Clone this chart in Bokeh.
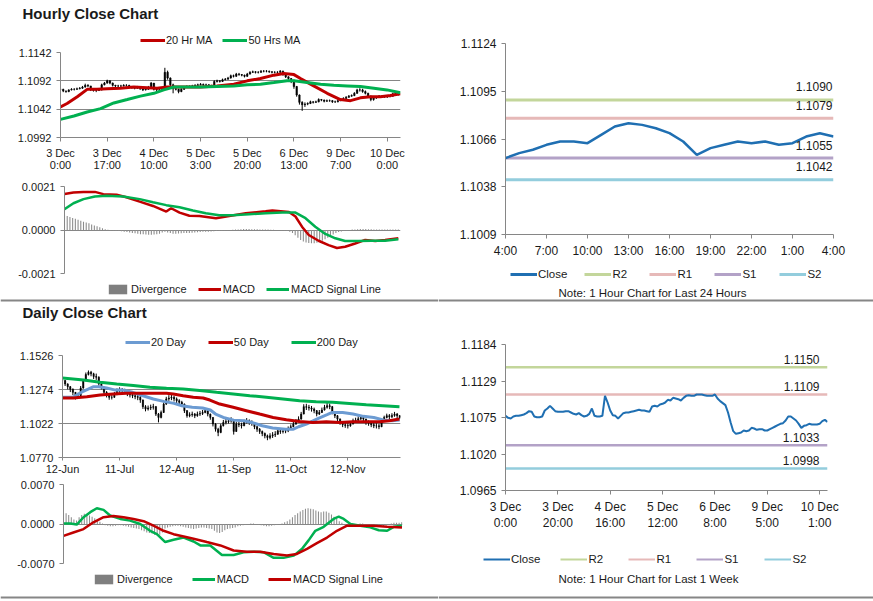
from bokeh.plotting import figure
from bokeh.layouts import row, column
from bokeh.models import Range1d, FixedTicker, Label, Legend, LegendItem, Span
from bokeh.embed import file_html
from bokeh.resources import INLINE

FONT = "Liberation Sans"
GREY = "#868686"
TXT = "#1a1a1a"
RED = "#c00000"
GREEN = "#00b050"
BLUE_CLOSE = "#1f6fb2"
BLUE_MA = "#6c9bd2"
DIV = "#8c8c8c"
LEVEL_COLORS = ["#c3d69b", "#e6b9b8", "#b3a2c7", "#93cddd"]

# ---------------- data ----------------
# hourly (3 Dec 0:00 .. 10 Dec 4:00), shared by the hourly candle chart and the 1-week chart
hourly_close = [1.1077,1.1074,1.1073,1.1076,1.1077,1.1077,1.1078,1.1079,1.1081,1.1084,
 1.1083,1.1076,1.1075,1.1075,1.1076,1.1085,1.1088,1.1092,1.1088,1.1084,
 1.1083,1.1083,1.1083,1.1084,1.1084,1.1082,1.1080,1.1079,1.1081,1.1078,
 1.1076,1.1077,1.1080,1.1088,1.1077,1.1076,1.1076,1.1077,1.1107,1.1097,
 1.1085,1.1078,1.1077,1.1073,1.1077,1.1081,1.1082,1.1082,1.1083,1.1084,
 1.1085,1.1086,1.1085,1.1085,1.1084,1.1083,1.1091,1.1092,1.1091,1.1094,
 1.1095,1.1097,1.1101,1.1100,1.1104,1.1103,1.1102,1.1100,1.1104,1.1107,
 1.1108,1.1107,1.1107,1.1109,1.1109,1.1109,1.1108,1.1107,1.1107,1.1107,
 1.1109,1.1103,1.1099,1.1096,1.1093,1.1082,1.1067,1.1054,1.1050,1.1051,
 1.1052,1.1055,1.1054,1.1055,1.1059,1.1058,1.1056,1.1057,1.1057,1.1055,
 1.1055,1.1057,1.1059,1.1061,1.1063,1.1065,1.1066,1.1070,1.1076,1.1076,
 1.1073,1.1070,1.1065,1.1059,1.1062,1.1063,1.1065,1.1064,1.1064,1.1064,
 1.1065,1.1069,1.1071,1.1068]
hourly_high = [1.1079,1.1078,1.1075,1.1077,1.1079,1.1079,1.1080,1.1081,1.1083,1.1087,
 1.1086,1.1083,1.1078,1.1077,1.1078,1.1087,1.1090,1.1094,1.1093,1.1089,
 1.1085,1.1085,1.1085,1.1086,1.1086,1.1085,1.1083,1.1081,1.1083,1.1082,
 1.1079,1.1079,1.1083,1.1090,1.1088,1.1078,1.1078,1.1080,1.1115,1.1110,
 1.1098,1.1087,1.1080,1.1078,1.1079,1.1083,1.1084,1.1084,1.1085,1.1086,
 1.1087,1.1088,1.1087,1.1087,1.1086,1.1085,1.1093,1.1094,1.1093,1.1096,
 1.1097,1.1099,1.1103,1.1103,1.1106,1.1106,1.1104,1.1103,1.1106,1.1109,
 1.1110,1.1109,1.1109,1.1111,1.1111,1.1111,1.1110,1.1109,1.1109,1.1109,
 1.1111,1.1110,1.1104,1.1100,1.1097,1.1094,1.1083,1.1068,1.1056,1.1054,
 1.1054,1.1057,1.1056,1.1057,1.1061,1.1060,1.1059,1.1059,1.1059,1.1058,
 1.1057,1.1059,1.1061,1.1063,1.1065,1.1067,1.1068,1.1072,1.1078,1.1079,
 1.1078,1.1075,1.1071,1.1066,1.1064,1.1065,1.1067,1.1066,1.1066,1.1066,
 1.1067,1.1071,1.1073,1.1072]
hourly_low = [1.1074,1.1072,1.1071,1.1072,1.1075,1.1075,1.1076,1.1077,1.1078,1.1080,
 1.1081,1.1074,1.1073,1.1072,1.1074,1.1075,1.1084,1.1087,1.1086,1.1082,
 1.1081,1.1081,1.1081,1.1082,1.1082,1.1080,1.1078,1.1077,1.1078,1.1076,
 1.1074,1.1075,1.1076,1.1079,1.1075,1.1074,1.1074,1.1075,1.1076,1.1094,
 1.1082,1.1070,1.1075,1.1070,1.1072,1.1076,1.1080,1.1080,1.1081,1.1082,
 1.1083,1.1084,1.1083,1.1083,1.1082,1.1081,1.1082,1.1089,1.1089,1.1090,
 1.1093,1.1094,1.1096,1.1098,1.1099,1.1101,1.1100,1.1098,1.1099,1.1103,
 1.1106,1.1105,1.1105,1.1106,1.1107,1.1107,1.1106,1.1105,1.1105,1.1105,
 1.1106,1.1101,1.1097,1.1094,1.1088,1.1078,1.1064,1.1050,1.1039,1.1046,
 1.1049,1.1051,1.1052,1.1053,1.1054,1.1056,1.1054,1.1055,1.1055,1.1053,
 1.1053,1.1054,1.1056,1.1058,1.1060,1.1062,1.1064,1.1065,1.1069,1.1073,
 1.1071,1.1068,1.1063,1.1056,1.1057,1.1060,1.1062,1.1062,1.1062,1.1062,
 1.1063,1.1064,1.1068,1.1066]
hourly_ticks = [0, 17, 34, 51, 68, 85, 102, 119]
hourly_tick_labels = ["3 Dec\n0:00", "3 Dec\n17:00", "4 Dec\n10:00", "5 Dec\n3:00",
                      "5 Dec\n20:00", "6 Dec\n13:00", "9 Dec\n7:00", "10 Dec\n0:00"]
hourly_y_ticks = [1.0992, 1.1042, 1.1092, 1.1142]
hourly_y_labels = ["1.0992", "1.1042", "1.1092", "1.1142"]

ma20h_x = [0, 2.4, 6.1, 9.7, 13.3, 17, 21.8, 26.7, 31.6, 35.2, 38.8, 41.3, 46.1, 51, 57, 63.1,
           68, 72.8, 77.7, 81.3, 85, 87.4, 92.2, 97.1, 101.9, 105.6, 109.2, 112.9, 116.5, 120.1, 123.8]
ma20h = [1.1046, 1.1052, 1.1064, 1.1077, 1.1077, 1.1078, 1.1079, 1.1081, 1.1080, 1.1079, 1.1081,
         1.1081, 1.1081, 1.1081, 1.1083, 1.1086, 1.1092, 1.1096, 1.1102, 1.1105, 1.1103, 1.1096,
         1.1083, 1.1070, 1.1059, 1.1057, 1.1062, 1.1064, 1.1064, 1.1066, 1.1069]
ma50h_x = [0, 4.9, 9.7, 14.6, 19.4, 24.3, 29.1, 34, 37.6, 41.3, 46.1, 51, 57, 63.1, 68, 72.8,
           77.7, 82.5, 85, 89.8, 94.7, 99.5, 104.4, 109.2, 114.1, 118.9, 123.8]
ma50h = [1.1024, 1.1030, 1.1037, 1.1043, 1.1053, 1.1059, 1.1065, 1.1070, 1.1076, 1.1081, 1.1081,
         1.1081, 1.1082, 1.1083, 1.1085, 1.1086, 1.1089, 1.1092, 1.1092, 1.1089, 1.1086, 1.1084,
         1.1083, 1.1082, 1.1079, 1.1076, 1.1071]

macdh_x = [0, 3.3, 7, 11.2, 14.3, 19.2, 22.8, 27.7, 32.6, 37.5, 39.3, 42.4, 46, 49.7, 55.8, 60.7,
           66.8, 74.1, 76.6, 82.7, 85.1, 87.5, 90, 93.6, 97.3, 100.4, 103.4, 107.1, 110.8, 114.5, 118.1, 123]
macdh = [0.00174, 0.00181, 0.00184, 0.00184, 0.00173, 0.00170, 0.00158, 0.00137, 0.00116, 0.00089,
         0.00105, 0.00084, 0.00069, 0.00068, 0.00057, 0.00068, 0.00081, 0.00090, 0.00094, 0.00087,
         0.00065, 0.00016, -0.00024, -0.00052, -0.00073, -0.00087, -0.00081, -0.00065, -0.00048,
         -0.00053, -0.00048, -0.00040]
signalh_x = [0, 3.3, 7, 11.2, 15.5, 21.6, 27.7, 32.6, 37.5, 42.4, 47.3, 52.1, 57, 61.9, 68, 74.1,
             80.2, 85.1, 88.8, 92.4, 96.1, 99.8, 103.4, 108.3, 113.2, 118.1, 123]
signalh = [0.00100, 0.00129, 0.00149, 0.00162, 0.00165, 0.00162, 0.00149, 0.00134, 0.00120, 0.00110,
           0.00094, 0.00081, 0.00071, 0.00071, 0.00076, 0.00081, 0.00084, 0.00084, 0.00057, 0.00016,
           -0.00019, -0.00040, -0.00053, -0.00053, -0.00052, -0.00052, -0.00045]
divh = [0.00073,0.00068,0.00063,0.00058,0.00054,0.00050,0.00045,0.00040,0.00036,0.00032,0.00027,0.00022,0.00018,0.00013,0.00008,
 0.00004,0.00001,-0.00002,-0.00003,-0.00004,-0.00005,
 -0.00006,-0.00008,-0.0001,-0.00012,-0.00014,-0.00016,-0.00018,-0.0002,-0.00021,-0.00022,-0.00023,-0.00023,-0.00022,-0.0002,-0.00018,
 -0.00012,-0.00008,-0.00012,-0.00015,-0.00018,-0.00018,-0.00017,-0.00016,-0.00015,-0.00015,-0.00014,-0.00013,-0.00012,-0.00011,-0.0001,
 -0.00009,-0.00008,-0.00008,-0.00007,-0.00006,-0.00005,-0.00004,-0.00003,-0.00002,-0.00001,0.0,0.00001,0.00002,0.00003,0.00004,
 0.00005,0.00005,0.00005,0.00004,0.00004,0.00004,0.00003,0.00003,0.00002,0.00002,0.00001,0.00001,0.0,0.0,-0.00001,-0.00002,-0.00003,-0.00008,-0.00015,
 -0.00025,-0.00038,-0.00048,-0.00055,-0.0006,-0.00063,-0.00064,-0.00064,-0.00062,-0.00058,-0.00052,-0.00045,-0.00038,-0.0003,-0.00022,-0.00015,
 -0.0001,-0.00007,-0.00004,-0.00002,0.0,0.00002,0.00003,0.00004,0.00005,0.00005,0.00005,0.00004,0.00004,0.00003,0.00003,0.00003,0.00002,0.00002,0.00002,0.00002,0.00002,0.00002,0.00002]
macdh_y_ticks = [-0.0021, 0.0, 0.0021]
macdh_y_labels = ["-0.0021", "0.0000", "0.0021"]

# last 24 hours
last24_close = [1.1055, 1.1058, 1.1060, 1.1063, 1.1065, 1.1065, 1.1064, 1.1069, 1.1074, 1.1076,
                1.1075, 1.1073, 1.1070, 1.1065, 1.1057, 1.1061, 1.1063, 1.1065, 1.1064, 1.1065,
                1.1063, 1.1064, 1.1068, 1.1070, 1.1068]
last24_ticks = [0, 3, 6, 9, 12, 15, 18, 21, 24]
last24_tick_labels = ["4:00", "7:00", "10:00", "13:00", "16:00", "19:00", "22:00", "1:00", "4:00"]
last24_y_ticks = [1.1009, 1.103775, 1.10665, 1.109525, 1.1124]
last24_y_labels = ["1.1009", "1.1038", "1.1066", "1.1095", "1.1124"]
level_names = ["R2", "R1", "S1", "S2"]
levels_24h = [1.1090, 1.1079, 1.1055, 1.1042]

# last 1 week
week_ticks = [0, 20, 40, 60, 80, 100, 120]
week_tick_labels = ["3 Dec\n0:00", "3 Dec\n20:00", "4 Dec\n16:00", "5 Dec\n12:00",
                    "6 Dec\n8:00", "9 Dec\n5:00", "10 Dec\n1:00"]
week_y_ticks = [1.0965, 1.101975, 1.10745, 1.112925, 1.1184]
week_y_labels = ["1.0965", "1.1020", "1.1075", "1.1129", "1.1184"]
levels_week = [1.1150, 1.1109, 1.1033, 1.0998]

# daily (12 Jun .. 10 Dec)
daily_close = [1.1340,1.1315,1.1295,1.1276,1.1253,1.1216,1.1228,1.1285,1.1340,1.1385,
 1.1402,1.1390,1.1370,1.1365,1.1315,1.1290,1.1253,1.1233,1.1216,1.1216,
 1.1236,1.1261,1.1271,1.1266,1.1261,1.1241,1.1233,1.1228,1.1221,1.1216,
 1.1196,1.1147,1.1129,1.1137,1.1142,1.1147,1.1092,1.1067,1.1104,1.1166,
 1.1204,1.1211,1.1216,1.1204,1.1191,1.1179,1.1166,1.1117,1.1080,1.1087,
 1.1092,1.1080,1.1092,1.1097,1.1104,1.1117,1.1092,1.1067,1.1018,1.0980,
 1.0956,1.1005,1.1030,1.1037,1.1042,1.1047,1.0963,1.1018,1.1013,1.1005,
 1.1030,1.1042,1.1030,1.1023,1.0998,1.0980,1.0963,1.0948,1.0931,1.0918,
 1.0931,1.0938,1.0943,1.0968,1.0963,1.0966,1.0968,1.0980,1.0998,1.1018,
 1.1037,1.1055,1.1092,1.1147,1.1142,1.1137,1.1129,1.1117,1.1092,1.1104,
 1.1122,1.1142,1.1154,1.1147,1.1104,1.1080,1.1055,1.1030,1.1013,1.1008,
 1.1005,1.1018,1.1042,1.1047,1.1057,1.1067,1.1055,1.1030,1.1023,1.1013,
 1.1005,1.1005,1.0998,1.1037,1.1067,1.1080,1.1072,1.1082,1.1092,1.1080,1.1067]
daily_high = [1.1365,1.1345,1.1320,1.1300,1.1282,1.1255,1.1250,1.1300,1.1352,1.1400,
 1.1415,1.1412,1.1398,1.1392,1.1372,1.1320,1.1295,1.1262,1.1245,1.1238,
 1.1255,1.1282,1.1290,1.1285,1.1280,1.1268,1.1255,1.1250,1.1242,1.1238,
 1.1225,1.1200,1.1158,1.1155,1.1162,1.1168,1.1152,1.1100,1.1118,1.1178,
 1.1220,1.1232,1.1240,1.1228,1.1215,1.1202,1.1190,1.1170,1.1122,1.1105,
 1.1110,1.1100,1.1110,1.1115,1.1122,1.1135,1.1120,1.1095,1.1070,1.1025,
 1.0990,1.1020,1.1048,1.1058,1.1062,1.1068,1.1050,1.1035,1.1035,1.1028,
 1.1050,1.1062,1.1052,1.1045,1.1028,1.1005,1.0988,1.0970,1.0955,1.0940,
 1.0950,1.0958,1.0965,1.0985,1.0985,1.0985,1.0988,1.1000,1.1015,1.1035,
 1.1055,1.1075,1.1108,1.1165,1.1168,1.1160,1.1152,1.1140,1.1122,1.1122,
 1.1140,1.1160,1.1175,1.1170,1.1152,1.1110,1.1085,1.1060,1.1038,1.1030,
 1.1025,1.1035,1.1058,1.1065,1.1075,1.1085,1.1075,1.1058,1.1045,1.1035,
 1.1028,1.1025,1.1020,1.1050,1.1080,1.1095,1.1092,1.1098,1.1108,1.1100,1.1085]
daily_low = [1.1318,1.1300,1.1275,1.1255,1.1232,1.1200,1.1205,1.1225,1.1280,1.1335,
 1.1378,1.1372,1.1352,1.1345,1.1302,1.1275,1.1240,1.1215,1.1198,1.1200,
 1.1212,1.1232,1.1250,1.1248,1.1242,1.1225,1.1215,1.1210,1.1202,1.1195,
 1.1175,1.1130,1.1112,1.1118,1.1122,1.1125,1.1078,1.1030,1.1060,1.1100,
 1.1160,1.1190,1.1195,1.1185,1.1172,1.1160,1.1148,1.1100,1.1065,1.1068,
 1.1072,1.1062,1.1072,1.1078,1.1085,1.1098,1.1075,1.1050,1.1000,1.0962,
 1.0928,1.0950,1.1000,1.1015,1.1022,1.1028,1.0940,1.0960,1.0995,1.0985,
 1.1002,1.1022,1.1012,1.1005,1.0980,1.0960,1.0945,1.0928,1.0912,1.0898,
 1.0905,1.0915,1.0922,1.0938,1.0945,1.0948,1.0950,1.0958,1.0975,1.0995,
 1.1012,1.1030,1.1050,1.1090,1.1122,1.1118,1.1110,1.1098,1.1075,1.1085,
 1.1100,1.1118,1.1132,1.1128,1.1090,1.1062,1.1038,1.1012,1.0995,1.0990,
 1.0985,1.0998,1.1015,1.1028,1.1038,1.1048,1.1038,1.1012,1.1005,1.0995,
 1.0988,1.0985,1.0980,1.0995,1.1035,1.1060,1.1055,1.1062,1.1072,1.1062,1.1055]
daily_ticks = [0, 22, 44, 66, 88, 110]
daily_tick_labels = ["12-Jun", "11-Jul", "12-Aug", "11-Sep", "11-Oct", "12-Nov"]
daily_y_ticks = [1.0770, 1.1022, 1.1274, 1.1526]
daily_y_labels = ["1.0770", "1.1022", "1.1274", "1.1526"]

ma20d_x = [0, 4, 8, 12, 14, 17, 20, 23, 27, 31, 35, 39, 43, 46, 50, 54, 57, 59, 62, 66,
           70, 73, 77, 81, 86, 89, 91, 94, 98, 102, 104, 108, 112, 116, 120, 124, 127, 130]
ma20d = [1.1216, 1.1216, 1.1261, 1.1295, 1.1295, 1.1285, 1.1271, 1.1271, 1.1253, 1.1228,
         1.1204, 1.1186, 1.1171, 1.1154, 1.1142, 1.1137, 1.1122, 1.1092, 1.1067, 1.1047,
         1.1042, 1.1030, 1.1005, 1.0988, 1.0980, 1.0980, 1.0998, 1.1018, 1.1055, 1.1087,
         1.1104, 1.1104, 1.1092, 1.1075, 1.1067, 1.1047, 1.1042, 1.1047]
ma50d_x = [0, 4.2, 9.4, 14.5, 19.6, 24.7, 29.9, 35, 40.1, 42.7, 46.5, 50.4, 54.2, 56.8, 60.6,
           65.8, 70.9, 76, 81.2, 86.3, 91.4, 96.5, 101.7, 106.8, 111.9, 117.1, 122.2, 126, 129.9]
ma50d = [1.1211, 1.1211, 1.1221, 1.1233, 1.1241, 1.1246, 1.1246, 1.1246, 1.1246, 1.1241,
         1.1228, 1.1216, 1.1211, 1.1196, 1.1166, 1.1142, 1.1117, 1.1092, 1.1067, 1.1050,
         1.1037, 1.1030, 1.1035, 1.1030, 1.1035, 1.1035, 1.1035, 1.1042, 1.1055]
ma200d_x = [0, 8.1, 14.5, 20.9, 27.3, 33.7, 40.1, 46.5, 52.9, 59.4, 65.8, 72.2, 78.6, 85,
            91.4, 97.8, 104.2, 110.6, 117.1, 123.5, 129.9]
ma200d = [1.1360, 1.1345, 1.1328, 1.1315, 1.1303, 1.1290, 1.1283, 1.1278, 1.1266, 1.1253,
          1.1241, 1.1228, 1.1216, 1.1204, 1.1191, 1.1184, 1.1179, 1.1171, 1.1161, 1.1154, 1.1147]

macdd_x = [0, 2.6, 5.1, 7.7, 10.3, 12.8, 15.4, 17.9, 21.8, 25.6, 29.5, 33.3, 35.9, 39.1, 42.3,
           46.2, 50, 52.6, 56.4, 60.9, 65.4, 69.2, 73.1, 76.9, 80.8, 84.6, 88.5, 91.7, 94.2,
           96.8, 100, 103.8, 105.8, 107.7, 110.3, 114.1, 117.9, 121.2, 124.4, 126.9, 130.1]
macdd = [0.0001, 0.0001, -0.0001, 0.0012, 0.0021, 0.0028, 0.0025, 0.0015, 0.0009, 0.0006,
         0.0000, -0.0012, -0.0018, -0.0032, -0.0028, -0.0024, -0.0031, -0.0038, -0.0038, -0.0055,
         -0.0055, -0.0050, -0.0049, -0.0050, -0.0060, -0.0060, -0.0056, -0.0044, -0.0029, -0.0012,
         -0.0005, 0.0009, 0.0013, 0.0009, 0.0000, -0.0003, -0.0006, -0.0011, -0.0012, -0.0005, -0.0003]
signald_x = [0, 3.8, 7.7, 11.5, 15.4, 19.2, 23.1, 26.9, 30.8, 34.6, 38.5, 42.3, 46.2, 50, 55.1,
             60.3, 65.4, 70.5, 75.6, 80.8, 85.9, 89.7, 93.6, 97.4, 101.3, 105.1, 109, 114.1,
             119.2, 124.4, 130.1]
signald = [-0.0021, -0.0015, -0.0009, 0.0003, 0.0012, 0.0014, 0.0012, 0.0009, 0.0005, -0.0003,
           -0.0012, -0.0018, -0.0022, -0.0026, -0.0032, -0.0038, -0.0047, -0.0049, -0.0049, -0.0053,
           -0.0056, -0.0053, -0.0044, -0.0034, -0.0024, -0.0012, -0.0003, -0.0003, -0.0003, -0.0005, -0.0006]
divd = [0.0021,0.0019,0.0016,0.0012,0.0008,0.0006,0.0012,0.0016,0.0018,0.0017,
 0.0015,0.0013,0.0010,0.0007,0.0004,0.0001,-0.0002,-0.0003,-0.0004,-0.0004,
 -0.0003,-0.0002,-0.0002,-0.0003,-0.0004,-0.0005,-0.0006,-0.0007,-0.0008,-0.0009,
 -0.0011,-0.0013,-0.0015,-0.0016,-0.0017,-0.0019,-0.0020,-0.0019,-0.0015,-0.0008,
 -0.0006,-0.0005,-0.0004,-0.0003,-0.0003,-0.0004,-0.0005,-0.0006,-0.0007,-0.0008,
 -0.0009,-0.0008,-0.0007,-0.0006,-0.0006,-0.0007,-0.0008,-0.0009,-0.0012,-0.0015,
 -0.0016,-0.0014,-0.0011,-0.0009,-0.0008,-0.0007,-0.0006,-0.0004,-0.0003,-0.0002,
 -0.0001,0.0000,0.0001,0.0001,0.0000,-0.0001,-0.0002,-0.0003,-0.0004,-0.0004,
 -0.0003,-0.0002,-0.0001,0.0000,0.0001,0.0003,0.0005,0.0008,0.0012,0.0016,
 0.0019,0.0022,0.0025,0.0027,0.0028,0.0027,0.0026,0.0024,0.0022,0.0021,
 0.0022,0.0022,0.0020,0.0017,0.0013,0.0009,0.0005,0.0002,0.0000,-0.0001,
 -0.0002,-0.0002,-0.0001,0.0000,0.0001,0.0001,0.0000,-0.0001,-0.0002,-0.0003,
 -0.0004,-0.0005,-0.0005,-0.0004,-0.0002,0.0000,0.0001,0.0002,0.0002,0.0002,0.0003]
macdd_y_ticks = [-0.007, 0.0, 0.007]
macdd_y_labels = ["-0.0070", "0.0000", "0.0070"]


# ---------------- helpers ----------------
def make_fig(w, h, left, right, top, bottom, xr, yr):
    p = figure(width=w, height=h, x_range=Range1d(*xr), y_range=Range1d(*yr),
               output_backend="svg", toolbar_location=None, title=None,
               min_border_left=left, min_border_right=right,
               min_border_top=top, min_border_bottom=bottom)
    p.frame_align = False
    p.outline_line_color = None
    p.background_fill_color = "white"
    p.border_fill_color = "white"
    p.xgrid.visible = False
    p.ygrid.visible = False
    for ax in (p.xaxis[0], p.yaxis[0]):
        ax.axis_line_color = GREY
        ax.major_tick_line_color = GREY
        ax.minor_tick_line_color = None
        ax.major_tick_out = 4
        ax.major_tick_in = 0
        ax.major_label_text_font = FONT
        ax.major_label_text_color = TXT
        ax.major_label_standoff = 5
    return p


def make_header(w, h, rule=False):
    # text strip: its ranges lie far from every series, so only the legend keys show
    p = figure(width=w, height=h, x_range=Range1d(-20, -10), y_range=Range1d(-20, -10),
               output_backend="svg", toolbar_location=None, title=None,
               x_axis_type=None, y_axis_type=None, min_border=0)
    p.frame_align = False
    p.outline_line_color = None
    p.grid.visible = False
    if rule:
        # grey section rule near the bottom edge
        p.add_layout(Span(location=2, location_units="screen", dimension="width",
                          line_color=GREY, line_width=2))
    return p


def set_ticks(p, axis, ticks, labels, size, grid=False):
    ax = p.xaxis[0] if axis == "x" else p.yaxis[0]
    t = FixedTicker(ticks=ticks, minor_ticks=[])
    ax.ticker = t
    ax.major_label_overrides = dict(zip(ticks, labels))
    ax.major_label_text_font_size = size
    if grid:
        g = p.ygrid[0]
        g.ticker = t
        g.visible = True
        g.grid_line_color = GREY
        g.grid_line_width = 1


def add_legend(h, items, x, y, size, glyph_w, spacing, standoff=1):
    its = []
    for label, kind, color, width, xs, ys in items:
        if kind == "bar":
            r = h.vbar(x=xs, top=ys, bottom=0, width=0.5, fill_color=color, line_color=None)
        else:
            r = h.line(x=xs, y=ys, line_color=color, line_width=width)
        its.append(LegendItem(label=label, renderers=[r]))
    lg = Legend(items=its, orientation="horizontal", location=(x, y), padding=0, margin=0,
                spacing=int(spacing), glyph_width=int(glyph_w), glyph_height=12,
                label_standoff=int(standoff), label_height=12,
                label_text_font=FONT, label_text_font_size=size, label_text_color=TXT,
                border_line_color=None, background_fill_alpha=0)
    h.add_layout(lg)


def add_text(p, text, x, y, size, bold=False, align="left"):
    p.add_layout(Label(x=x, y=y, x_units="screen", y_units="screen", text=text,
                       text_font=FONT, text_font_size=size, text_color=TXT,
                       text_font_style="bold" if bold else "normal",
                       text_align=align, text_baseline="middle"))


# ---------------- hourly candles ----------------
hours = list(range(len(hourly_close)))
h_open = [hourly_close[0]] + hourly_close[:-1]

h1 = make_header(438, 46)
add_text(h1, "Hourly Close Chart", 22, 33, "15px", bold=True)
add_legend(h1, [("20 Hr MA", "line", RED, 3, ma20h_x, ma20h),
                ("50 Hrs MA", "line", GREEN, 3, ma50h_x, ma50h)], 140, 0, "11px", 25, 10)

f1 = make_fig(438, 129, 60, 38, 6, 38, (0, 123.8), (hourly_y_ticks[0], hourly_y_ticks[-1]))
set_ticks(f1, "x", hourly_ticks, hourly_tick_labels, "11px")
set_ticks(f1, "y", hourly_y_ticks, hourly_y_labels, "11px", grid=True)
f1.xaxis.major_label_text_line_height = 1.0
f1.segment(x0=hours, y0=hourly_low, x1=hours, y1=hourly_high, line_color="black", line_width=1)
f1.vbar(x=hours, bottom=h_open, top=hourly_close, width=0.55, fill_color="black",
        line_color="black", line_width=0.5)
f1.line(ma20h_x, ma20h, line_color=RED, line_width=3)
f1.line(ma50h_x, ma50h, line_color=GREEN, line_width=3)

# ---------------- hourly MACD ----------------
f2 = make_fig(438, 106, 64, 38, 11, 8, (0, 123.8), (macdh_y_ticks[0], macdh_y_ticks[-1]))
set_ticks(f2, "y", macdh_y_ticks, macdh_y_labels, "11px", grid=True)
f2.xaxis.visible = False
f2.vbar(x=hours, top=divh, bottom=0, width=0.4, fill_color=DIV, line_color=None)
f2.line(macdh_x, macdh, line_color=RED, line_width=2.5)
f2.line(signalh_x, signalh, line_color=GREEN, line_width=2.5)

h2 = make_header(438, 21, rule=True)
add_legend(h2, [("Divergence", "bar", "#7f7f7f", 0, hours, divh),
                ("MACD", "line", RED, 3, macdh_x, macdh),
                ("MACD Signal Line", "line", GREEN, 3, signalh_x, signalh)],
           106, 7.5, "11px", 23, 11, standoff=2)

# ---------------- last 24 hours ----------------
x24 = list(range(len(last24_close)))
f3 = make_fig(435, 262, 67, 40, 43, 28, (x24[0], x24[-1]), (last24_y_ticks[0], last24_y_ticks[-1]))
set_ticks(f3, "x", last24_ticks, last24_tick_labels, "12px")
set_ticks(f3, "y", last24_y_ticks, last24_y_labels, "12px")
for v, c in zip(levels_24h, LEVEL_COLORS):
    f3.line([x24[0], x24[-1]], [v, v], line_color=c, line_width=3)
    f3.add_layout(Label(x=x24[-1], y=v, text=f"{v:.4f}", x_offset=-1, y_offset=13,
                        text_font=FONT, text_font_size="12px", text_color=TXT,
                        text_align="right", text_baseline="middle"))
f3.line(x24, last24_close, line_color=BLUE_CLOSE, line_width=2.5)

h3 = make_header(435, 40, rule=True)
add_legend(h3, [("Close", "line", BLUE_CLOSE, 3, x24, last24_close)] +
           [(n, "line", c, 3, [x24[0], x24[-1]], [v, v])
            for n, c, v in zip(level_names, LEVEL_COLORS, levels_24h)],
           72, 22.5, "11.5px", 27, 17)
add_text(h3, "Note: 1 Hour Chart for Last 24 Hours", 214, 10, "11.5px", align="center")

# ---------------- daily candles ----------------
days = list(range(len(daily_close)))
d_open = [daily_close[0]] + daily_close[:-1]

h4 = make_header(438, 47)
add_text(h4, "Daily Close Chart", 22, 37, "15px", bold=True)
add_legend(h4, [("20 Day", "line", BLUE_MA, 3, ma20d_x, ma20d),
                ("50 Day", "line", RED, 3, ma50d_x, ma50d),
                ("200 Day", "line", GREEN, 3, ma200d_x, ma200d)], 125, 1, "11px", 25, 22)

f4 = make_fig(438, 129, 62, 38, 6, 21, (0, 130.3), (daily_y_ticks[0], daily_y_ticks[-1]))
set_ticks(f4, "x", daily_ticks, daily_tick_labels, "11px")
set_ticks(f4, "y", daily_y_ticks, daily_y_labels, "11px", grid=True)
f4.xaxis.major_tick_out = 3
f4.xaxis.major_label_standoff = 2
f4.segment(x0=days, y0=daily_low, x1=days, y1=daily_high, line_color="black", line_width=1)
f4.vbar(x=days, bottom=d_open, top=daily_close, width=0.5, fill_color="black",
        line_color="black", line_width=0.5)
f4.line(ma20d_x, ma20d, line_color=BLUE_MA, line_width=3)
f4.line(ma50d_x, ma50d, line_color=RED, line_width=3)
f4.line(ma200d_x, ma200d, line_color=GREEN, line_width=3)

# ---------------- daily MACD ----------------
f5 = make_fig(438, 93, 63, 36, 6, 8, (0, 130.3), (macdd_y_ticks[0], macdd_y_ticks[-1]))
set_ticks(f5, "y", macdd_y_ticks, macdd_y_labels, "11px", grid=True)
f5.xaxis.visible = False
f5.vbar(x=days, top=divd, bottom=0, width=0.4, fill_color=DIV, line_color=None)
f5.line(macdd_x, macdd, line_color=GREEN, line_width=2.5)
f5.line(signald_x, signald, line_color=RED, line_width=2.5)

h5 = make_header(438, 28, rule=True)
add_legend(h5, [("Divergence", "bar", "#7f7f7f", 0, days, divd),
                ("MACD", "line", GREEN, 3, macdd_x, macdd),
                ("MACD Signal Line", "line", RED, 3, signald_x, signald)],
           92, 14.5, "11px", 23, 19, standoff=2)

# ---------------- last 1 week ----------------
f6 = make_fig(435, 231, 67, 46, 42, 40, (hours[0], hours[-1]), (week_y_ticks[0], week_y_ticks[-1]))
set_ticks(f6, "x", week_ticks, week_tick_labels, "12px")
set_ticks(f6, "y", week_y_ticks, week_y_labels, "12px")
for v, c in zip(levels_week, LEVEL_COLORS):
    f6.line([hours[0], hours[-1]], [v, v], line_color=c, line_width=2.5)
    f6.add_layout(Label(x=hours[-1], y=v, text=f"{v:.4f}", x_offset=-8, y_offset=8,
                        text_font=FONT, text_font_size="12px", text_color=TXT,
                        text_align="right", text_baseline="middle"))
f6.line(hours, hourly_close, line_color=BLUE_CLOSE, line_width=2)

h6 = make_header(435, 66, rule=True)
add_legend(h6, [("Close", "line", BLUE_CLOSE, 2, hours, hourly_close)] +
           [(n, "line", c, 2, [hours[0], hours[-1]], [v, v])
            for n, c, v in zip(level_names, LEVEL_COLORS, levels_week)],
           45, 34.5, "11.5px", 27, 20)
add_text(h6, "Note: 1 Hour Chart for Last 1 Week", 210, 21, "11.5px", align="center")

layout = column(row(column(h1, f1, f2, h2), column(f3, h3)),
                row(column(h4, f4, f5, h5), column(f6, h6)))

open("out.html", "w").write(file_html(layout, INLINE))
